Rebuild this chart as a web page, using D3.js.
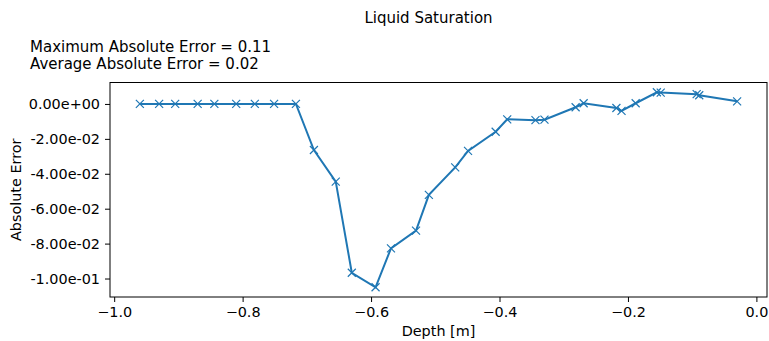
<!DOCTYPE html>
<html>
<head>
<meta charset="utf-8">
<script src="https://cdn.jsdelivr.net/npm/d3@7"></script>
<style>
  body { margin: 0; background: #fff; }
  text { font-family: "DejaVu Sans", sans-serif; fill: #000; }
</style>
</head>
<body>
<div id="chart"></div>
<script>
// depth [m] and absolute error
const depth = [
  -0.960, -0.930, -0.905, -0.870, -0.844, -0.810, -0.781, -0.751, -0.717,
  -0.689, -0.655, -0.630, -0.593, -0.569, -0.530, -0.510, -0.469, -0.449,
  -0.406, -0.388, -0.344, -0.330, -0.2815, -0.269, -0.218, -0.210, -0.188,
  -0.155, -0.149, -0.093, -0.089, -0.030
];
const absError = [
  0, 0, 0, 0, 0, 0, 0, 0, 0,
  -0.0264, -0.0445, -0.0967, -0.1050, -0.0827, -0.0726, -0.0521, -0.0363, -0.0269,
  -0.0159, -0.0088, -0.0093, -0.0090, -0.0019, 0.0004, -0.0023, -0.0040, 0.0004,
  0.0067, 0.0065, 0.0056, 0.0050, 0.0015
];
const xTicks = [-1.0, -0.8, -0.6, -0.4, -0.2, 0.0];
const yTicks = [0, -0.02, -0.04, -0.06, -0.08, -0.1];
const title = "Liquid Saturation";
const statLines = ["Maximum Absolute Error = 0.11", "Average Absolute Error = 0.02"];

const W = 769, H = 341;
const margin = { top: 82.5, right: 2, bottom: 44, left: 110 };
const width = W - margin.left - margin.right;
const height = H - margin.top - margin.bottom;

const svg = d3.select("#chart").append("svg")
    .attr("width", W)
    .attr("height", H);

const g = svg.append("g")
    .attr("transform", `translate(${margin.left},${margin.top})`);

// matplotlib style 5% margins
const xExt = d3.extent(depth), yExt = d3.extent(absError);
const xPad = (xExt[1] - xExt[0]) * 0.05, yPad = (yExt[1] - yExt[0]) * 0.05;

const x = d3.scaleLinear()
    .domain([xExt[0] - xPad, xExt[1] + xPad])
    .range([0, width]);

const y = d3.scaleLinear()
    .domain([yExt[0] - yPad, yExt[1] + yPad])
    .range([height, 0]);

const minus = s => s.replace("-", "\u2212");

// x axis
const xAxis = g.append("g")
    .attr("transform", `translate(0,${height})`)
    .call(d3.axisBottom(x).tickValues(xTicks).tickSize(5).tickPadding(5)
        .tickFormat(d => minus(d3.format(".1f")(d))));

// y axis
const yAxis = g.append("g")
    .call(d3.axisLeft(y).tickValues(yTicks).tickSize(5).tickPadding(5)
        .tickFormat(d => d.toExponential(2).replace(/e([+-])(\d)$/, "e$10$2")));

[xAxis, yAxis].forEach(a => {
    a.select(".domain").remove();
    a.selectAll("line").attr("stroke", "#000").attr("stroke-width", 1);
    a.selectAll("text").style("font-size", "14.4px")
        .style("font-family", "DejaVu Sans, sans-serif");
});

// frame
g.append("rect")
    .attr("width", width)
    .attr("height", height)
    .attr("fill", "none")
    .attr("stroke", "#000")
    .attr("stroke-width", 1);

// data line
const line = d3.line()
    .x((d, i) => x(depth[i]))
    .y(d => y(d));

g.append("path")
    .datum(absError)
    .attr("fill", "none")
    .attr("stroke", "#1f77b4")
    .attr("stroke-width", 2)
    .attr("d", line);

// x markers
const m = 4;
g.selectAll(".mk")
    .data(absError)
    .enter()
    .append("path")
    .attr("class", "mk")
    .attr("d", (d, i) => {
        const cx = x(depth[i]), cy = y(d);
        return `M${cx - m},${cy - m}L${cx + m},${cy + m}M${cx - m},${cy + m}L${cx + m},${cy - m}`;
    })
    .attr("stroke", "#1f77b4")
    .attr("stroke-width", 1.2);

// title and stats
svg.append("text")
    .attr("x", 428.5)
    .attr("y", 23)
    .attr("text-anchor", "middle")
    .style("font-size", "15px")
    .text(title);

svg.selectAll(".stat")
    .data(statLines)
    .enter()
    .append("text")
    .attr("class", "stat")
    .attr("x", 30)
    .attr("y", (d, i) => 52 + i * 16.6)
    .style("font-size", "15px")
    .text(d => d);

// axis labels
svg.append("text")
    .attr("x", margin.left + width / 2)
    .attr("y", 336)
    .attr("text-anchor", "middle")
    .style("font-size", "14.4px")
    .text("Depth [m]");

svg.append("text")
    .attr("transform", `translate(21,${margin.top + height / 2}) rotate(-90)`)
    .attr("text-anchor", "middle")
    .style("font-size", "14.4px")
    .text("Absolute Error");
</script>
</body>
</html>
